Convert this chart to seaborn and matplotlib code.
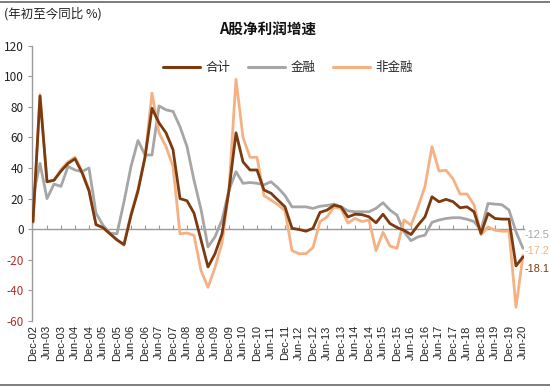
import matplotlib
matplotlib.use("Agg")
import matplotlib.pyplot as plt
import matplotlib.lines as mlines
import seaborn as sns
import pandas as pd
import numpy as np

# quarterly cumulative YoY growth, Dec-02 .. Jun-20 (71 quarters)
total = [5, 87, 31, 32, 38, 43, 46, 37, 25, 3, 1, -3, -7, -10, 9, 25, 47, 79, 69.5, 63,
         52, 20, 18.6, 10.5, -7, -24.7, -16, -3, 25.6, 63, 44, 38.7, 38.7, 25.6, 23.5, 19,
         14.6, 0.6, -0.2, -1.3, 0.6, 11, 12.5, 15.7, 14.6, 8, 9.8, 9.5, 8.1, 4.2, 9.8, 3.7,
         1.1, -0.7, -3.5, 2.6, 8.1, 21.2, 17.9, 19.5, 18, 14, 14.6, 11.4, -2.8, 10.3, 7,
         6.6, 6.6, -24, -18.1]
financial = [21, 43, 20, 29.5, 28, 41, 38.7, 37.6, 40, 10.5, 2.6, -2.6, -3, 18, 41, 58,
             48.5, 48.5, 80.6, 78, 77, 67, 54, 32, 13, -11.6, -5, 6, 25.6, 37.6, 30, 30.5,
             30, 29, 31, 27, 22, 14.6, 14.6, 14.6, 13.6, 15, 15.5, 16.4, 14.6, 12, 11.4,
             11.4, 11.4, 13.6, 17.3, 12.5, 9.2, -1.7, -7.5, -5, -3.9, 4.5, 6, 7, 7.5, 7.5,
             6.5, 5, -0.7, 16.8, 16.4, 16, 12.5, -1.7, -12.5]
nonfinancial = [4, 88, 31, 32, 39, 44, 47, 38, 26, 3, 1, -3, -7, -10.5, 10, 26, 47, 89,
                63, 54, 41, -3, -2.5, -4, -27, -38, -25, -9, 26, 98, 60, 47, 47, 22, 19,
                16, 12, -14, -16, -16, -12, 5, 8, 14.5, 13.5, 4, 7, 5, 6, -14, -2, -11,
                -12.5, 6, 2.6, 14.5, 28, 54, 38, 38.5, 33, 23, 23, 16, -3.5, 1.5, -0.7,
                -1.3, -1.3, -51, -17.2]
tick_labels = ["Dec-02", "Jun-03", "Dec-03", "Jun-04", "Dec-04", "Jun-05", "Dec-05",
               "Jun-06", "Dec-06", "Jun-07", "Dec-07", "Jun-08", "Dec-08", "Jun-09",
               "Dec-09", "Jun-10", "Dec-10", "Jun-11", "Dec-11", "Jun-12", "Dec-12",
               "Jun-13", "Dec-13", "Jun-14", "Dec-14", "Jun-15", "Dec-15", "Jun-16",
               "Dec-16", "Jun-17", "Dec-17", "Jun-18", "Dec-18", "Jun-19", "Dec-19",
               "Jun-20"]
series_names = ["合计", "金融", "非金融"]
end_labels = ["-18.1", "-12.5", "-17.2"]

colors = {"合计": "#7B3A10", "金融": "#A6A6A6", "非金融": "#F4B183"}

sns.set_style("white")
plt.rcParams["font.family"] = ["Noto Sans CJK SC", "DejaVu Sans"]

n = len(total)
idx = np.arange(n)
df = pd.DataFrame({
    "q": np.concatenate([idx, idx, idx]),
    "v": total + financial + nonfinancial,
    "s": ["合计"] * n + ["金融"] * n + ["非金融"] * n,
})

fig = plt.figure(figsize=(5.5, 3.87), dpi=100)
L, R = 32 / 550, 524 / 550
B, T = 1 - 321 / 387, 1 - 45.6 / 387
ax = fig.add_axes([L, B, R - L, T - B])

# draw order: financial, non-financial, total on top
for name in ["金融", "非金融", "合计"]:
    sub = df[df["s"] == name]
    sns.lineplot(data=sub, x="q", y="v", ax=ax, color=colors[name], lw=2.0,
                 legend=False, zorder=3 if name == "合计" else 2)

ax.set_xlim(-1 / 7, n - 1 + 1 / 7)
ax.set_ylim(-60, 120)
ax.set_yticks(np.arange(-60, 121, 20))
ylabs = []
for t in ax.get_yticks():
    ylabs.append(f"{int(t)}")
ax.set_yticklabels(ylabs, fontsize=8.5)
for lab, t in zip(ax.get_yticklabels(), ax.get_yticks()):
    lab.set_color("#B0302A" if t < 0 else "#222222")
ax.tick_params(axis="y", length=3, width=0.8, color="#9A9A9A", pad=3, left=True)

ax.set_xticks(idx[::2])
ax.set_xticklabels(tick_labels, rotation=90, fontsize=8, color="#222222",
                   family=["Liberation Sans", "DejaVu Sans"])
ax.tick_params(axis="x", length=0, pad=3)
ax.set_xlabel("")
ax.set_ylabel("")
for sp in ["top", "right", "bottom"]:
    ax.spines[sp].set_visible(False)
ax.spines["left"].set_color("#9A9A9A")
ax.spines["left"].set_linewidth(1.0)

# zero axis line with category ticks
sec = ax.secondary_xaxis(60 / 180)
sec.set_xticks(idx[::2][1:])
sec.tick_params(axis="x", direction="in", length=3, color="#9A9A9A", labelbottom=False)
sec.spines["bottom"].set_color("#9A9A9A")
sec.spines["bottom"].set_linewidth(1.0)
sec.set_xticklabels([])

# end value labels
end_y = {"合计": -26, "金融": -3.5, "非金融": -14}
end_vals = {"合计": end_labels[0], "金融": end_labels[1], "非金融": end_labels[2]}
for name in series_names:
    ax.annotate(end_vals[name], xy=(n - 1, end_y[name]), xytext=(1, 0),
                textcoords="offset points", va="center", ha="left",
                fontsize=7.8, color=colors[name], annotation_clip=False,
                family=["Liberation Sans", "DejaVu Sans"])

# legend
handles = [mlines.Line2D([], [], color=colors[nm], lw=2.2) for nm in series_names]
ax.legend(handles, series_names, loc="upper center", bbox_to_anchor=(0.52, 0.985),
          ncol=3, frameon=False, fontsize=9, handlelength=3.0, columnspacing=1.4,
          handletextpad=0.4)

fig.text(268 / 550, 1 - 30 / 387, "A股净利润增速", ha="center", va="center",
         fontsize=10.5, fontweight="bold", color="#111111")
fig.text(4 / 550, 1 - 14 / 387, "(年初至今同比 %)", ha="left", va="center",
         fontsize=9, color="#222222")

# frame lines top/bottom like the source picture
fig.add_artist(mlines.Line2D([0, 1], [1 - 2 / 387, 1 - 2 / 387], color="#666666", lw=1.2,
                             transform=fig.transFigure))
fig.add_artist(mlines.Line2D([0, 1], [2 / 387, 2 / 387], color="#666666", lw=1.2,
                             transform=fig.transFigure))

fig.savefig("out.png", dpi=100)
